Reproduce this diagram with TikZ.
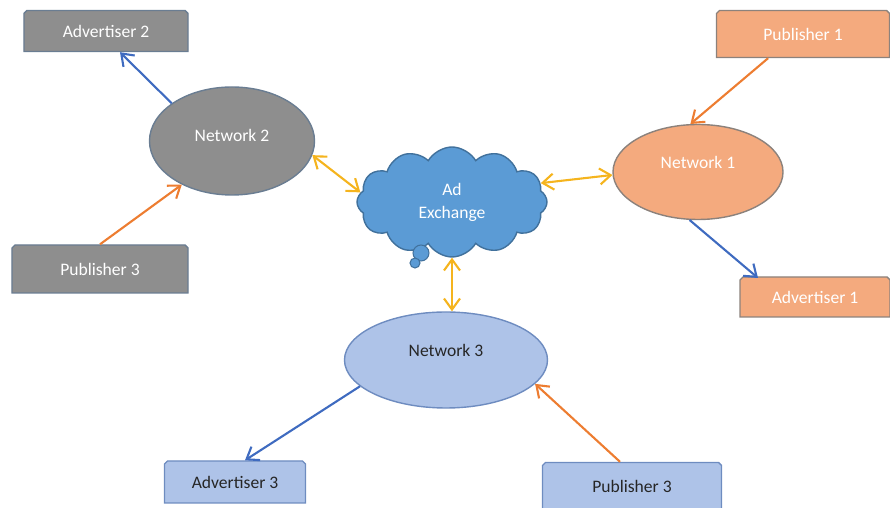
\documentclass[tikz,border=0pt]{standalone}
\usepackage{fontspec}
\setmainfont{Carlito}
\usepackage{xcolor}
\usepackage{tikz}
\usetikzlibrary{arrows.meta,positioning,shapes.geometric,shapes.symbols,shapes.misc,calc}
\definecolor{grayfill}{HTML}{8E8E8E}
\definecolor{grayline}{HTML}{6A7D92}
\definecolor{orangefill}{HTML}{F4AA7E}
\definecolor{orangeline}{HTML}{8C827C}
\definecolor{paleblue}{HTML}{AEC3E8}
\definecolor{palebline}{HTML}{6E8CC0}
\definecolor{cloudblue}{HTML}{5B9BD5}
\definecolor{cloudline}{HTML}{41719C}
\definecolor{arrowblue}{HTML}{3F6BC0}
\definecolor{arroworange}{HTML}{ED7D31}
\definecolor{arrowgold}{HTML}{F5B41E}
\tikzset{
  snipbox/.style={chamfered rectangle, chamfered rectangle corners={north east,north west}, chamfered rectangle xsep=0.03cm, chamfered rectangle ysep=0.03cm, line width=0.8pt, align=center, font=\fontsize{10}{11}\selectfont, inner sep=0pt},
  graybox/.style={snipbox, draw=grayline, fill=grayfill, text=white},
  orangebox/.style={snipbox, draw=orangeline, fill=orangefill, text=white},
  bluebox/.style={snipbox, draw=palebline, fill=paleblue, text=black!85},
  netnode/.style={ellipse, line width=0.8pt, align=center, font=\fontsize{10}{11}\selectfont, inner sep=0pt},
  advedge/.style={-{Straight Barb[length=2.2mm,width=3.2mm]}, line width=1.2pt, draw=arrowblue},
  pubedge/.style={-{Straight Barb[length=2.2mm,width=3.2mm]}, line width=1.2pt, draw=arroworange},
  xchgedge/.style={{Straight Barb[length=2.2mm,width=3.2mm]}-{Straight Barb[length=2.2mm,width=3.2mm]}, line width=1.2pt, draw=arrowgold}
}
\begin{document}
\begin{tikzpicture}
  \useasboundingbox (0,0) rectangle (17.8,10.16);
  % exchange in the middle
  \node[cloud, cloud puffs=12, cloud puff arc=120, aspect=1.8, draw=cloudline, fill=cloudblue, line width=0.8pt, minimum width=3.8cm, minimum height=2.2cm, inner sep=0pt, align=center, text=white, font=\fontsize{10}{13}\selectfont] (ex) at (9.04,6.12) {Ad\\Exchange};
  \fill[cloudblue, draw=cloudline, line width=0.6pt] ($(ex.center)+(-0.62,-1.02)$) circle (0.16);
  \fill[cloudblue, draw=cloudline, line width=0.6pt] ($(ex.center)+(-0.74,-1.22)$) circle (0.1);
  % networks
  \node[netnode, draw=grayline, fill=grayfill, text=white, minimum width=3.3cm, minimum height=2.16cm] (net2) at (4.64,7.34) {Network 2\\[-0.9ex]};
  \node[netnode, draw=orangeline, fill=orangefill, text=white, minimum width=3.4cm, minimum height=1.9cm] (net1) at (13.96,6.72) {Network 1\\[0pt]};
  \node[netnode, draw=palebline, fill=paleblue, text=black!85, minimum width=4.06cm, minimum height=1.92cm] (net3) at (8.92,2.96) {Network 3\\[0pt]};
  % advertisers and publishers
  \node[graybox, minimum width=3.28cm, minimum height=0.82cm] (adv2) at (2.12,9.54) {Advertiser 2};
  \node[graybox, minimum width=3.52cm, minimum height=0.96cm] (publ) at (2.0,4.78) {Publisher 3};
  \node[orangebox, minimum width=3.46cm, minimum height=0.94cm] (pub1) at (16.06,9.48) {Publisher 1};
  \node[orangebox, minimum width=3.0cm, minimum height=0.8cm] (adv1) at (16.3,4.22) {Advertiser 1};
  \node[bluebox, minimum width=2.82cm, minimum height=0.84cm] (adv3) at (4.7,0.52) {Advertiser 3};
  \node[bluebox, minimum width=3.58cm, minimum height=0.94cm] (pubb) at (12.64,0.44) {Publisher 3};
  % connectors
  \draw[advedge] (net2.148) -- ($(adv2.south)+(0.28,0)$);
  \draw[pubedge] (publ.north) -- (net2.221);
  \draw[xchgedge] (net2.-10) -- (ex.174);
  \draw[xchgedge] (ex.12) -- (net1.182);
  \draw[xchgedge] (ex.south) -- (ex.south |- net3.north);
  \draw[pubedge] ($(pub1.south)!0.4!(pub1.south west)$) -- (net1.99);
  \draw[advedge] (net1.260) -- ($(adv1.north west)+(0.34,0)$);
  \draw[advedge] (net3.197) -- ($(adv3.north)+(0.2,0)$);
  \draw[pubedge] ($(pubb.north)+(-0.24,0)$) -- (net3.-15);
\end{tikzpicture}
\end{document}
